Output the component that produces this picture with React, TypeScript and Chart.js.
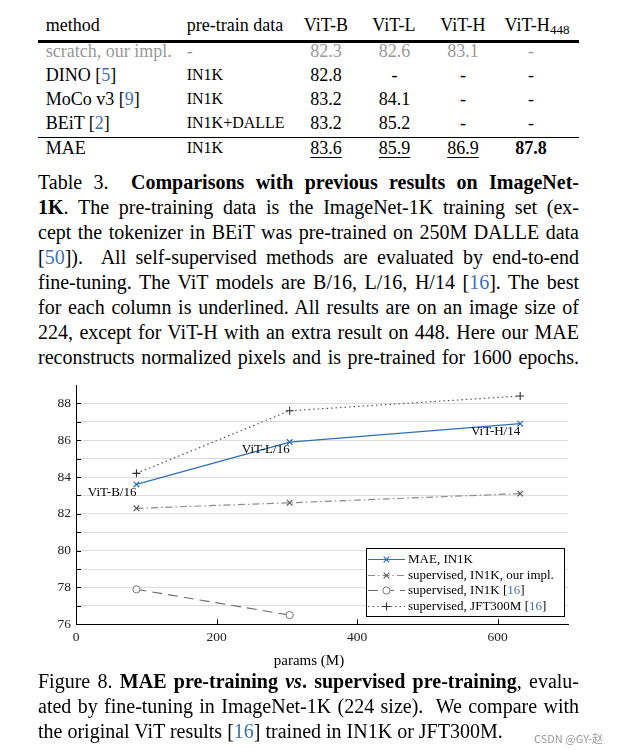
import React, { useEffect, useRef } from "react";
import { Chart, registerables } from "chart.js";

Chart.register(...registerables);

const SERIF = "'Liberation Serif', 'Times New Roman', Times, serif";
const REF_BLUE = "#3f6fb5";
const MAE_BLUE = "#2e6fb7";

// ---------- Table 3 data ----------
const headerMethod = "method";
const headerPretrain = "pre-train data";
const modelColumns = ["ViT-B", "ViT-L", "ViT-H", "ViT-H"];
const modelColumnSubs = ["", "", "", "448"];
const methods = ["scratch, our impl.", "DINO", "MoCo v3", "BEiT", "MAE"];
const methodRefs = ["", "5", "9", "2", ""];
const pretrainData = ["-", "IN1K", "IN1K", "IN1K+DALLE", "IN1K"];
const accViTB = ["82.3", "82.8", "83.2", "83.2", "83.6"];
const accViTL = ["82.6", "-", "84.1", "85.2", "85.9"];
const accViTH = ["83.1", "-", "-", "-", "86.9"];
const accViTH448 = ["-", "-", "-", "-", "87.8"];
const maeRowMarks = ["underline", "underline", "underline", "bold"];

// ---------- Figure 8 data ----------
const modelNames = ["ViT-B/16", "ViT-L/16", "ViT-H/14"];
const modelParams = [86, 304, 632];
const maeIN1K = [83.6, 85.9, 86.9];
const supIN1KOurs = [82.3, 82.6, 83.1];
const supIN1KViT = [77.9, 76.5];
const supJFT300M = [84.2, 87.6, 88.4];
const seriesLabels = [
  "MAE, IN1K",
  "supervised, IN1K, our impl.",
  "supervised, IN1K [16]",
  "supervised, JFT300M [16]",
];
const xTickValues = [0, 200, 400, 600];
const yGridValues = [76, 77, 78, 79, 80, 81, 82, 83, 84, 85, 86, 87, 88];
const yLabelValues = [76, 78, 80, 82, 84, 86, 88];
const xTitle = "params (M)";

function drawMarker(ctx: CanvasRenderingContext2D, style: string, x: number, y: number, r: number, stroke: string, width: number) {
  ctx.save();
  ctx.setLineDash([]);
  ctx.strokeStyle = stroke;
  ctx.lineWidth = width;
  ctx.beginPath();
  if (style === "crossRot") {
    const d = r * Math.SQRT1_2;
    ctx.moveTo(x - d, y - d);
    ctx.lineTo(x + d, y + d);
    ctx.moveTo(x + d, y - d);
    ctx.lineTo(x - d, y + d);
    ctx.stroke();
  } else if (style === "cross") {
    ctx.moveTo(x - r, y);
    ctx.lineTo(x + r, y);
    ctx.moveTo(x, y - r);
    ctx.lineTo(x, y + r);
    ctx.stroke();
  } else {
    ctx.arc(x, y, r, 0, Math.PI * 2);
    ctx.fillStyle = "#fff";
    ctx.fill();
    ctx.stroke();
  }
  ctx.restore();
}

const innerTicks = {
  id: "innerTicks",
  beforeDatasetsDraw(chart: any) {
    const { ctx, chartArea, scales } = chart;
    ctx.save();
    ctx.strokeStyle = "#000";
    ctx.lineWidth = 1;
    scales.y.ticks.forEach((t: any) => {
      const py = Math.round(scales.y.getPixelForValue(t.value)) + 0.5;
      ctx.beginPath();
      ctx.moveTo(chartArea.left, py);
      ctx.lineTo(chartArea.left + 5, py);
      ctx.stroke();
    });
    scales.x.ticks.forEach((t: any) => {
      if (t.value === 0) return;
      const px = Math.round(scales.x.getPixelForValue(t.value)) + 0.5;
      ctx.beginPath();
      ctx.moveTo(px, chartArea.bottom);
      ctx.lineTo(px, chartArea.bottom - 5);
      ctx.stroke();
    });
    ctx.restore();
  },
};

const pointNames = {
  id: "pointNames",
  afterDatasetsDraw(chart: any) {
    const { ctx } = chart;
    const meta = chart.getDatasetMeta(0);
    ctx.save();
    ctx.font = `13px ${SERIF}`;
    ctx.fillStyle = "#000";
    ctx.textAlign = "right";
    ctx.textBaseline = "top";
    meta.data.forEach((pt: any, i: number) => {
      ctx.fillText(modelNames[i], pt.x, pt.y + 1.5);
    });
    ctx.restore();
  },
};

const legendBox = {
  id: "legendBox",
  afterDraw(chart: any) {
    const { ctx, chartArea } = chart;
    const ds = chart.data.datasets;
    ctx.save();
    ctx.font = `13px ${SERIF}`;
    const rowH = 15.9, padTop = 10.6, padBottom = 10, sampleX = 2, sampleW = 37, gap = 3, padRight = 10;
    const textW = Math.max(...ds.map((d: any) => ctx.measureText(d.label).width));
    const w = sampleX + sampleW + gap + textW + padRight;
    const h = padTop + rowH * (ds.length - 1) + padBottom;
    const right = chartArea.right - 4;
    const bottom = chartArea.bottom - 8;
    const left = Math.round(right - w);
    const top = Math.round(bottom - h);
    ctx.fillStyle = "#fff";
    ctx.fillRect(left, top, Math.round(w), Math.round(h));
    ctx.strokeStyle = "#000";
    ctx.lineWidth = 1;
    ctx.strokeRect(left + 0.5, top + 0.5, Math.round(w), Math.round(h));
    ds.forEach((d: any, i: number) => {
      const cy = Math.round(top + padTop + i * rowH) + 0.5;
      ctx.save();
      ctx.strokeStyle = d.borderColor;
      ctx.lineWidth = d.borderWidth;
      ctx.setLineDash(d.borderDash || []);
      ctx.beginPath();
      ctx.moveTo(left + sampleX, cy);
      ctx.lineTo(left + sampleX + sampleW, cy);
      ctx.stroke();
      ctx.restore();
      drawMarker(ctx, d.pointStyle, left + sampleX + sampleW / 2, cy, d.pointRadius, d.pointBorderColor, d.pointBorderWidth);
      let tx = left + sampleX + sampleW + gap;
      ctx.textBaseline = "middle";
      ctx.textAlign = "left";
      const parts = String(d.label).split(/(\[\d+\])/);
      parts.forEach((p: string) => {
        if (!p) return;
        const m = p.match(/^\[(\d+)\]$/);
        const segs = m ? [["[", "#000"], [m[1], REF_BLUE], ["]", "#000"]] : [[p, "#000"]];
        segs.forEach(([s, c]) => {
          ctx.fillStyle = c;
          ctx.fillText(s, tx, cy);
          tx += ctx.measureText(s).width;
        });
      });
    });
    ctx.restore();
  },
};

function RefNum({ n }: { n: string }) {
  return (
    <>
      [<span style={{ color: REF_BLUE }}>{n}</span>]
    </>
  );
}

const rowCenters = [52, 76, 100, 124, 149];
const numCenters = [326, 394.5, 463, 531];
const headerCenters = [326, 394, 463, 537];

function Cell({ cy, left, center, size = 18, color = "#000", children, bold = false, underline = false }: any) {
  const style: any = {
    position: "absolute",
    top: cy - 13,
    height: 24,
    lineHeight: "24px",
    fontSize: size,
    color,
    whiteSpace: "nowrap",
    fontWeight: bold ? "bold" : "normal",
  };
  if (center !== undefined) {
    style.left = center - 60;
    style.width = 120;
    style.textAlign = "center";
  } else {
    style.left = left;
  }
  return (
    <div style={style}>
      {underline ? (
        <span style={{ textDecoration: "underline", textUnderlineOffset: "3px", textDecorationThickness: "1px" }}>{children}</span>
      ) : (
        children
      )}
    </div>
  );
}

const justLine: any = { textAlign: "justify", textAlignLast: "justify", whiteSpace: "normal" };

export default function App() {
  const canvasRef = useRef<HTMLCanvasElement>(null);

  useEffect(() => {
    const mk = (vals: number[]) => vals.map((v, i) => ({ x: modelParams[i], y: v }));
    const chart = new Chart(canvasRef.current as HTMLCanvasElement, {
      type: "line",
      data: {
        datasets: [
          {
            label: seriesLabels[0],
            data: mk(maeIN1K),
            borderColor: MAE_BLUE,
            backgroundColor: MAE_BLUE,
            borderWidth: 1.2,
            pointStyle: "crossRot",
            pointRadius: 4,
            pointBorderColor: MAE_BLUE,
            pointBorderWidth: 1.2,
            tension: 0,
          },
          {
            label: seriesLabels[1],
            data: mk(supIN1KOurs),
            borderColor: "#8c8c8c",
            backgroundColor: "#8c8c8c",
            borderWidth: 1.2,
            borderDash: [7, 3, 1.5, 3],
            pointStyle: "crossRot",
            pointRadius: 4,
            pointBorderColor: "#555",
            pointBorderWidth: 1.1,
            tension: 0,
          },
          {
            label: seriesLabels[2],
            data: mk(supIN1KViT),
            borderColor: "#6a6a6a",
            backgroundColor: "#fff",
            borderWidth: 1.1,
            borderDash: [10, 6],
            pointStyle: "circle",
            pointRadius: 3.6,
            pointBackgroundColor: "#fff",
            pointBorderColor: "#777",
            pointBorderWidth: 1,
            tension: 0,
          },
          {
            label: seriesLabels[3],
            data: mk(supJFT300M),
            borderColor: "#555",
            backgroundColor: "#555",
            borderWidth: 1.2,
            borderDash: [1.5, 3],
            pointStyle: "cross",
            pointRadius: 4,
            pointBorderColor: "#333",
            pointBorderWidth: 1.1,
            tension: 0,
          },
        ],
      } as any,
      options: {
        animation: false,
        responsive: false,
        devicePixelRatio: 1,
        events: [],
        layout: { padding: { left: 0, right: 56, top: 15, bottom: 0 } },
        plugins: { legend: { display: false }, tooltip: { enabled: false } },
        scales: {
          x: {
            type: "linear",
            min: 0,
            max: 700,
            afterFit: (s: any) => {
              s.height = 45.7;
            },
            afterBuildTicks: (s: any) => {
              s.ticks = xTickValues.map((v) => ({ value: v }));
            },
            grid: { display: false, drawTicks: false },
            border: { display: true, color: "#000", width: 1 },
            ticks: {
              padding: 5,
              autoSkip: false,
              maxRotation: 0,
              color: "#222",
              font: { family: SERIF, size: 13.5 },
              callback: (v: any) => String(v),
            },
            title: { display: false },
          },
          y: {
            type: "linear",
            min: 76,
            max: 89,
            afterFit: (s: any) => {
              s.width = 76;
            },
            afterBuildTicks: (s: any) => {
              s.ticks = yGridValues.map((v) => ({ value: v }));
            },
            grid: { display: true, drawTicks: false, color: "#dcdcdc", lineWidth: 1 },
            border: { display: true, color: "#000", width: 1 },
            ticks: {
              padding: 5,
              autoSkip: false,
              color: "#222",
              font: { family: SERIF, size: 13.5 },
              callback: (v: any) => (yLabelValues.includes(Number(v)) ? String(v) : ""),
            },
          },
        },
      } as any,
      plugins: [innerTicks, pointNames, legendBox],
    });
    return () => chart.destroy();
  }, []);

  const accCols = [accViTB, accViTL, accViTH, accViTH448];

  return (
    <div
      style={{
        position: "absolute",
        left: 0,
        top: 0,
        width: 624,
        height: 753,
        background: "#fff",
        overflow: "hidden",
        fontFamily: SERIF,
        color: "#000",
      }}
    >
      {/* Table header */}
      <Cell cy={26} left={45.7}>{headerMethod}</Cell>
      <Cell cy={26} left={186.7}>{headerPretrain}</Cell>
      {modelColumns.map((c, j) => (
        <Cell key={"h" + j} cy={26} center={headerCenters[j]}>
          {c}
          {modelColumnSubs[j] && (
            <sub style={{ fontSize: 13, verticalAlign: "-3px", lineHeight: 0 }}>{modelColumnSubs[j]}</sub>
          )}
        </Cell>
      ))}
      <div style={{ position: "absolute", left: 38, top: 40, width: 541, height: 2.5, background: "#000" }} />
      <div style={{ position: "absolute", left: 38, top: 137, width: 541, height: 1, background: "#000" }} />

      {methods.map((m, i) => {
        const gray = i === 0;
        const color = gray ? "#999" : "#000";
        return (
          <React.Fragment key={"r" + i}>
            <Cell cy={rowCenters[i]} left={45.7} color={color}>
              {m}
              {methodRefs[i] && (
                <>
                  {" "}
                  <RefNum n={methodRefs[i]} />
                </>
              )}
            </Cell>
            <Cell cy={rowCenters[i]} left={186.7} color={color} size={pretrainData[i] === "-" ? 18 : 16}>
              {pretrainData[i]}
            </Cell>
            {accCols.map((col, j) => (
              <Cell
                key={"c" + j}
                cy={rowCenters[i]}
                center={numCenters[j]}
                color={color}
                underline={i === 4 && maeRowMarks[j] === "underline"}
                bold={i === 4 && maeRowMarks[j] === "bold"}
              >
                {col[i]}
              </Cell>
            ))}
          </React.Fragment>
        );
      })}

      {/* Table caption */}
      <div style={{ position: "absolute", left: 38, top: 170, width: 541, fontSize: 20, lineHeight: "25px" }}>
        <div style={justLine}>
          Table 3.&nbsp; <b>Comparisons with previous results on ImageNet-</b>
        </div>
        <div style={justLine}>
          <b>1K</b>. The pre-training data is the ImageNet-1K training set (ex-
        </div>
        <div style={justLine}>cept the tokenizer in BEiT was pre-trained on 250M DALLE data</div>
        <div style={justLine}>
          <RefNum n="50" />
          ).&nbsp; All self-supervised methods are evaluated by end-to-end
        </div>
        <div style={justLine}>
          fine-tuning. The ViT models are B/16, L/16, H/14 <RefNum n="16" />. The best
        </div>
        <div style={justLine}>for each column is underlined. All results are on an image size of</div>
        <div style={justLine}>224, except for ViT-H with an extra result on 448. Here our MAE</div>
        <div style={justLine}>reconstructs normalized pixels and is pre-trained for 1600 epochs.</div>
      </div>

      {/* Figure 8 chart */}
      <canvas ref={canvasRef} width={624} height={300} style={{ position: "absolute", left: 0, top: 370, width: 624, height: 300 }} />
      <div
        style={{
          position: "absolute",
          left: 259,
          top: 651,
          width: 100,
          textAlign: "center",
          fontSize: 15,
          lineHeight: "18px",
          whiteSpace: "nowrap",
        }}
      >
        {xTitle}
      </div>

      {/* Figure caption */}
      <div style={{ position: "absolute", left: 38, top: 668.7, width: 541, fontSize: 20, lineHeight: "25px" }}>
        <div style={justLine}>
          Figure 8. <b>MAE pre-training <i>vs</i>. supervised pre-training</b>, evalu-
        </div>
        <div style={justLine}>ated by fine-tuning in ImageNet-1K (224 size).&nbsp; We compare with</div>
        <div>
          the original ViT results <RefNum n="16" /> trained in IN1K or JFT300M.
        </div>
      </div>
      <div
        style={{
          position: "absolute",
          left: 534,
          top: 731,
          fontSize: 11,
          lineHeight: "14px",
          color: "#9a9a9a",
          fontFamily: "'Noto Sans CJK SC', 'Noto Sans', sans-serif",
          whiteSpace: "nowrap",
        }}
      >
        CSDN @GY-赵
      </div>
    </div>
  );
}
